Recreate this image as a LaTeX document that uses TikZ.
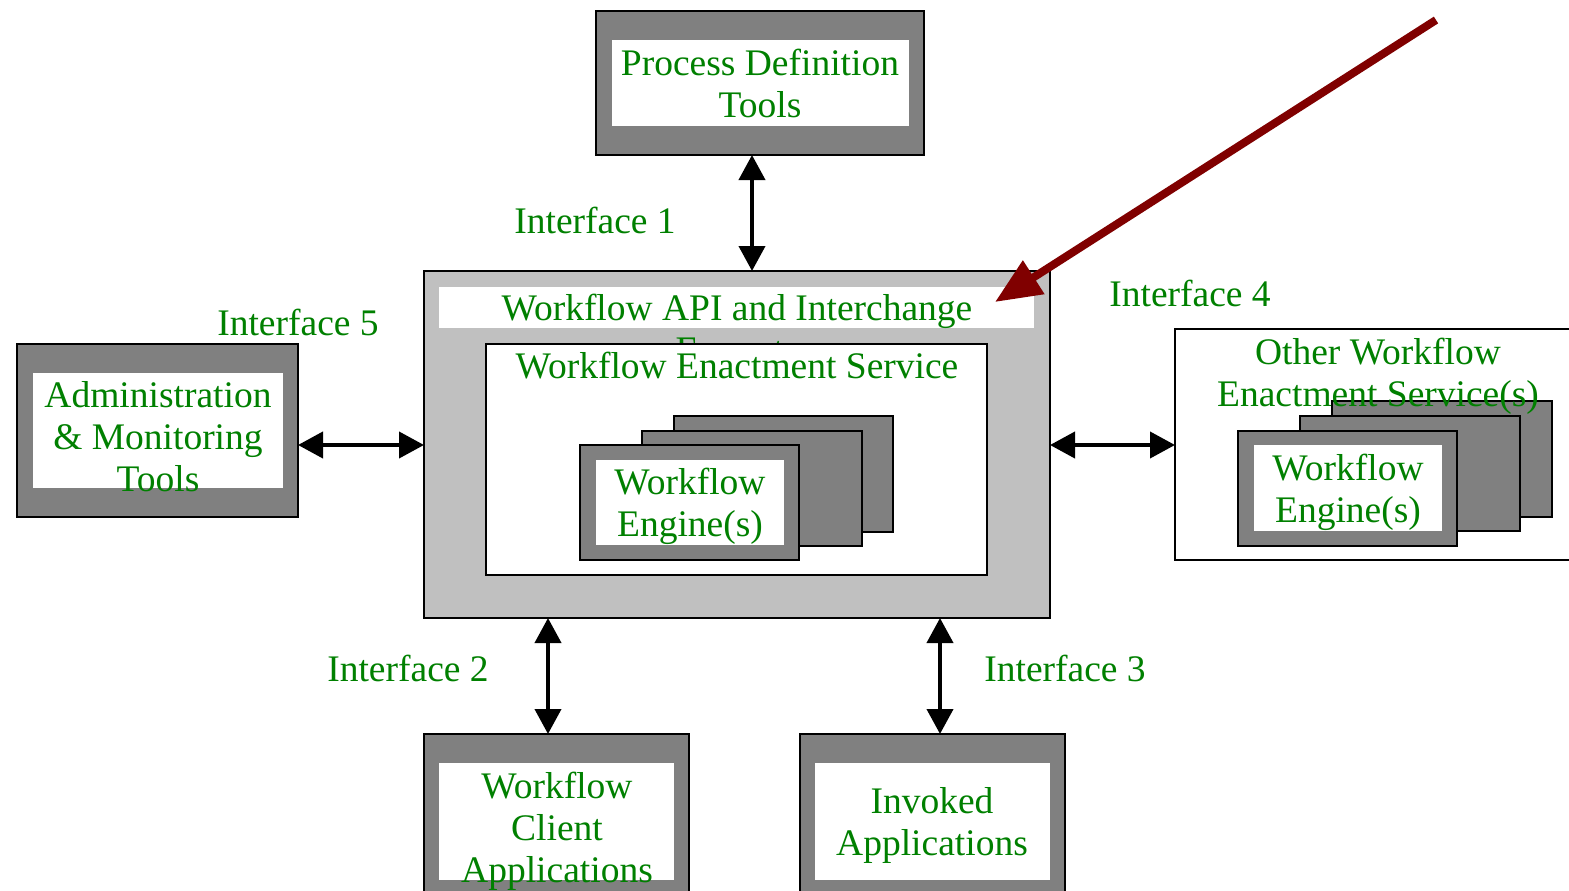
\documentclass[tikz,border=0pt]{standalone}
\usepackage{fontspec}
\setmainfont{Liberation Serif}
\usetikzlibrary{arrows.meta,fit}
\definecolor{tgreen}{RGB}{0,128,0}
\definecolor{dgray}{RGB}{128,128,128}
\definecolor{lgray}{RGB}{192,192,192}
\definecolor{dred}{RGB}{128,0,0}
\begin{document}
\begin{tikzpicture}[x=1pt,y=-1pt,
  darkbox/.style={draw=black,line width=2pt,fill=dgray,inner sep=0pt,outer sep=0pt},
  whitebox/.style={fill=white,draw=none,inner sep=0pt,outer sep=0pt},
  framebox/.style={draw=black,line width=2pt,fill=white,inner sep=0pt,outer sep=0pt},
  mainbox/.style={draw=black,line width=2pt,fill=lgray,inner sep=0pt,outer sep=0pt},
  lbl/.style={text=tgreen,font=\fontsize{37.5}{42}\selectfont,align=center,inner sep=0pt},
  link/.style={line width=4pt,{Triangle[length=25pt,width=26pt]}-{Triangle[length=25pt,width=26pt]}},
  pointer/.style={line width=8pt,dred,-{Triangle[length=46pt,width=38pt]}}
]
\useasboundingbox (0,0) rectangle (1569,891);
\fill[white] (0,0) rectangle (1569,891);

% Process definition tools
\node[darkbox,fit={(596,11)(924,155)}] (pd) {};
\node[whitebox,fit={(612,40)(909,126)}] (pdin) {};
\node[lbl] (pdt) at (760,83) {Process Definition\\Tools};

% main box
\node[mainbox,fit={(424,271)(1050,618)}] (main) {};
\node[whitebox,fit={(439,287)(1034,328)}] (api) {};
\node[lbl,anchor=north] (apit) at (737,294) {Workflow API and Interchange\\Formats};
\node[framebox,fit={(486,344)(987,575)}] (wes) {};
\node[lbl] (west) at (737,366) {Workflow Enactment Service};
\node[darkbox,fit={(674,416)(893,532)}] (e3) {};
\node[darkbox,fit={(642,431)(862,546)}] (e2) {};
\node[darkbox,fit={(580,445)(799,560)}] (e1) {};
\node[whitebox,fit={(596,460)(784,545)}] (e1in) {};
\node[lbl] (e1t) at (690,506) {Workflow\\Engine(s)};

% other workflow enactment services
\node[framebox,fit={(1175,329)(1590,560)}] (other) {};
\node[darkbox,fit={(1332,401)(1552,517)}] (o3) {};
\node[darkbox,fit={(1300,416)(1520,531)}] (o2) {};
\node[darkbox,fit={(1238,431)(1457,546)}] (o1) {};
\node[whitebox,fit={(1254,445)(1442,531)}] (o1in) {};
\node[lbl] (o1t) at (1348,492) {Workflow\\Engine(s)};
\node[lbl] (othert) at (1378,376) {Other Workflow\\Enactment Service(s)};

% admin
\node[darkbox,fit={(17,344)(298,517)}] (adm) {};
\node[whitebox,fit={(33,373)(283,488)}] (admin) {};
\node[lbl] (admt) at (158,437) {Administration\\\& Monitoring\\Tools};

% client
\node[darkbox,fit={(424,734)(689,910)}] (cli) {};
\node[whitebox,fit={(439,763)(674,880)}] (cliin) {};
\node[lbl] (clit) at (557,831) {Workflow\\Client\\Applications};

% invoked
\node[darkbox,fit={(800,734)(1065,910)}] (inv) {};
\node[whitebox,fit={(815,763)(1050,880)}] (invin) {};
\node[lbl] (invt) at (932,825) {Invoked\\Applications};

% interface labels
\node[lbl] (if1) at (595,220) {Interface 1};
\node[lbl] (if5) at (298,322) {Interface 5};
\node[lbl] (if4) at (1190,293) {Interface 4};
\node[lbl] (if2) at (408,668) {Interface 2};
\node[lbl] (if3) at (1065,668) {Interface 3};

% connectors
\coordinate (x1) at (752,0);
\coordinate (x2) at (548,0);
\coordinate (x3) at (940,0);
\coordinate (y45) at (0,445);
\draw[link] (pd.south -| x1) -- (main.north -| x1);
\draw[link] (adm.east |- y45) -- (main.west |- y45);
\draw[link] (main.east |- y45) -- (other.west |- y45);
\draw[link] (main.south -| x2) -- (cli.north -| x2);
\draw[link] (main.south -| x3) -- (inv.north -| x3);

% red pointer
\coordinate (ptrstart) at (1436,20);
\coordinate (ptrend) at (995,302);
\draw[pointer] (ptrstart) -- (ptrend);
\end{tikzpicture}
\end{document}
